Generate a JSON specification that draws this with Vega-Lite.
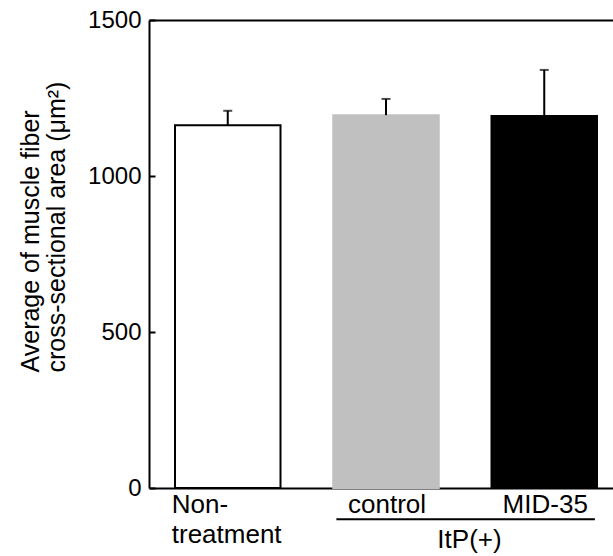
{
  "$schema": "https://vega.github.io/schema/vega-lite/v6.json",
  "width": 464,
  "height": 468,
  "autosize": {"type": "none"},
  "padding": {"left": 149, "top": 20, "right": 0, "bottom": 68},
  "background": "white",
  "config": {
    "view": {"stroke": null},
    "font": "Liberation Sans",
    "axis": {
      "labelFont": "Liberation Sans",
      "titleFont": "Liberation Sans",
      "labelColor": "#000",
      "titleColor": "#000",
      "domainColor": "#000",
      "tickColor": "#000",
      "grid": false,
      "domainWidth": 2,
      "tickWidth": 2
    }
  },
  "datasets": {
    "bars": [
      {"group": "Non-treatment", "mean": 1163, "upper": 1209},
      {"group": "control", "mean": 1195, "upper": 1247},
      {"group": "MID-35", "mean": 1192, "upper": 1340}
    ],
    "bracket": [
      {"from": "control", "to": "MID-35", "level": -100}
    ]
  },
  "layer": [
    {
      "data": {"name": "bars"},
      "mark": {"type": "bar", "strokeWidth": 2},
      "encoding": {
        "x": {
          "field": "group",
          "type": "nominal",
          "sort": null,
          "scale": {
            "domain": ["Non-treatment", "control", "MID-35"],
            "paddingInner": 0.3333,
            "paddingOuter": 0.1327,
            "align": 0.619
          },
          "axis": {
            "orient": "bottom",
            "ticks": false,
            "tickSize": 0,
            "domain": true,
            "labelAngle": 0,
            "labelFontSize": 26,
            "labelPadding": 24,
            "labelBaseline": "alphabetic",
            "labelLineHeight": 30,
            "labelFlush": false,
            "labelOverlap": false,
            "labelBound": false,
            "labelExpr": "datum.value == 'Non-treatment' ? ['Non-', 'treatment'] : datum.label",
            "labelAlign": {"condition": {"test": "datum.value == 'Non-treatment'", "value": "left"}, "value": "center"},
            "labelOffset": {"condition": {"test": "datum.value == 'Non-treatment'", "value": -56}, "value": 1},
            "title": "ItP(+)",
            "titleFontSize": 26,
            "titleFontWeight": "normal",
            "titleX": 320,
            "titleY": 59,
            "titleAlign": "center",
            "titleBaseline": "alphabetic"
          }
        },
        "y": {
          "field": "mean",
          "type": "quantitative",
          "scale": {"domain": [0, 1500], "nice": false},
          "axis": {
            "values": [0, 500, 1000, 1500],
            "format": "d",
            "tickSize": -6,
            "labelPadding": 14,
            "labelFlush": false,
            "labelFontSize": 24,
            "labelExpr": "datum.value == 0 ? '0\u00a0\u00a0' : datum.label",
            "title": ["Average of muscle fiber", "cross-sectional area (μm²)"],
            "titleFontSize": 25,
            "titleFontWeight": "normal",
            "titleLineHeight": 26,
            "titleAngle": -90,
            "titleAlign": "left",
            "titleBaseline": "alphabetic",
            "titleX": -111,
            "titleY": 352
          }
        },
        "fill": {
          "field": "group",
          "type": "nominal",
          "scale": {"domain": ["Non-treatment", "control", "MID-35"], "range": ["#ffffff", "#c0c0c0", "#000000"]},
          "legend": null
        },
        "stroke": {
          "field": "group",
          "type": "nominal",
          "scale": {"domain": ["Non-treatment", "control", "MID-35"], "range": ["#000000", "#c0c0c0", "#000000"]},
          "legend": null
        }
      }
    },
    {
      "data": {"name": "bars"},
      "mark": {"type": "rule", "strokeWidth": 2, "color": "#000"},
      "encoding": {
        "x": {
          "field": "group",
          "type": "nominal",
          "axis": {"orient": "top", "labels": false, "ticks": false, "title": null, "domain": true, "domainWidth": 2}
        },
        "y": {"field": "mean", "type": "quantitative"},
        "y2": {"field": "upper"}
      }
    },
    {
      "data": {"name": "bars"},
      "mark": {"type": "tick", "thickness": 2, "size": 9, "color": "#000", "orient": "horizontal"},
      "encoding": {
        "x": {"field": "group", "type": "nominal", "axis": null},
        "y": {"field": "upper", "type": "quantitative"}
      }
    },
    {
      "data": {"name": "bracket"},
      "mark": {"type": "rule", "strokeWidth": 2, "color": "#000"},
      "encoding": {
        "x": {"field": "from", "type": "nominal", "bandPosition": 0.03, "axis": null},
        "x2": {"field": "to", "bandPosition": 0.98},
        "y": {"field": "level", "type": "quantitative"}
      }
    }
  ],
  "resolve": {"axis": {"x": "independent"}}
}
